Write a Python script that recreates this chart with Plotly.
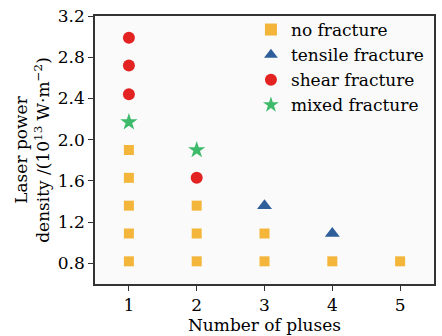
import plotly.graph_objects as go

no_x = [1, 1, 1, 1, 1, 2, 2, 2, 3, 3, 4, 5]
no_y = [0.82, 1.09, 1.36, 1.63, 1.90, 0.82, 1.09, 1.36, 0.82, 1.09, 0.82, 0.82]
ten_x = [3, 4]
ten_y = [1.36, 1.09]
she_x = [1, 1, 1, 2]
she_y = [2.44, 2.72, 2.99, 1.63]
mix_x = [1, 2]
mix_y = [2.17, 1.90]

font = "DejaVu Serif"
fig = go.Figure()
fig.add_trace(go.Scatter(x=no_x, y=no_y, mode="markers", name="no fracture",
                         marker=dict(symbol="square", size=10, color="#F4B63A")))
fig.add_trace(go.Scatter(x=ten_x, y=ten_y, mode="markers", name="tensile fracture",
                         marker=dict(symbol="triangle-up", size=13, color="#2F5F9A")))
fig.add_trace(go.Scatter(x=she_x, y=she_y, mode="markers", name="shear fracture",
                         marker=dict(symbol="circle", size=12, color="#E32322")))
fig.add_trace(go.Scatter(x=mix_x, y=mix_y, mode="markers", name="mixed fracture",
                         marker=dict(symbol="star", size=13, color="#3DBA6A")))

fig.update_layout(
    width=442, height=336,
    margin=dict(l=95, r=6, t=15, b=47),
    paper_bgcolor="white", plot_bgcolor="#FAFAFA",
    font=dict(family=font, size=16, color="black"),
    showlegend=True,
    legend=dict(x=0.46, y=1.015, xanchor="left", yanchor="top",
                bgcolor="rgba(0,0,0,0)", font=dict(size=17, family=font),
                itemsizing="constant", tracegroupgap=0),
    xaxis=dict(range=[0.5, 5.5], tickvals=[1, 2, 3, 4, 5], ticks="outside",
               ticklen=5, tickcolor="#333", showgrid=False, zeroline=False,
               showline=True, linecolor="#333", linewidth=1.5, mirror=True,
               title=dict(text="Number of pluses", standoff=3,
                          font=dict(size=17, family=font)),
               tickfont=dict(size=17, family=font)),
    yaxis=dict(range=[0.6, 3.2], tickvals=[0.8, 1.2, 1.6, 2.0, 2.4, 2.8, 3.2],
               ticktext=["0.8", "1.2", "1.6", "2.0", "2.4", "2.8", "3.2"],
               ticks="outside", ticklen=5, tickcolor="#333", showgrid=False,
               zeroline=False, showline=True, linecolor="#333", linewidth=1.5,
               mirror=True,
               title=dict(text="Laser power<br>density /(10<sup>13</sup> W·m<sup>−2</sup>)",
                          standoff=4, font=dict(size=17, family=font)),
               tickfont=dict(size=17, family=font)),
)
fig.write_html("out.html")
